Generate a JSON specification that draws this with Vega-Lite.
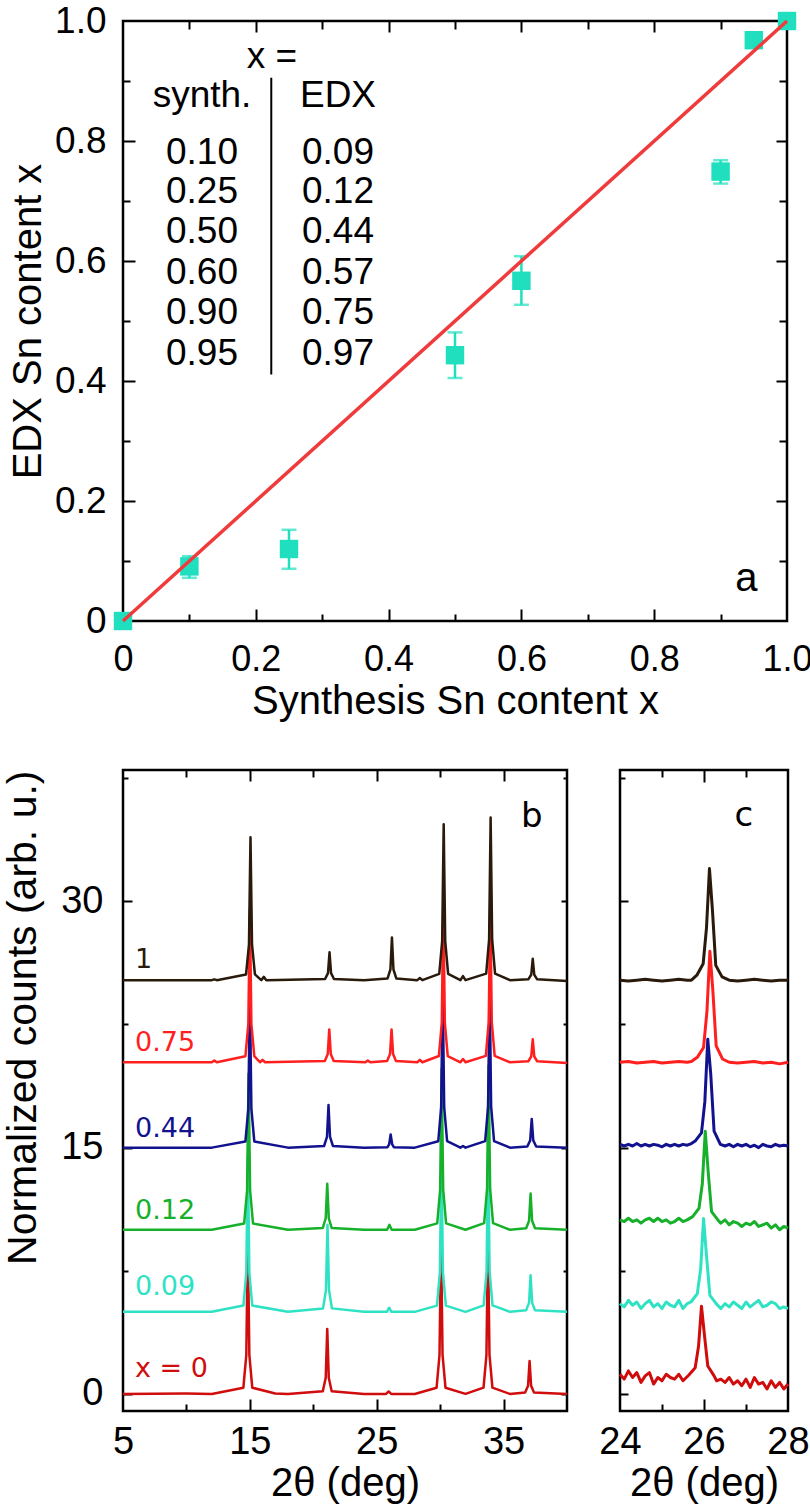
{
"$schema": "https://vega.github.io/schema/vega-lite/v6.json",
"padding": {"left": 1, "top": 0, "right": 0, "bottom": 0},
"spacing": 44,
"config": {
  "view": {"stroke": "black", "strokeWidth": 2.5},
  "axis": {"grid": false, "domain": false, "labelFont": "Liberation Sans", "titleFont": "Liberation Sans", "labelColor": "black", "titleColor": "black", "titleFontWeight": "normal", "tickColor": "black", "tickWidth": 2, "labelFlush": false, "labelOverlap": false, "labelBound": false},
  "text": {"font": "Liberation Sans"}
},
"datasets": {
  "diag": [{"s": 0, "e": 0}, {"s": 1, "e": 1}],
  "pts": [{"s": 0, "e": 0}, {"s": 0.1, "e": 0.091}, {"s": 0.25, "e": 0.12}, {"s": 0.5, "e": 0.443}, {"s": 0.6, "e": 0.567}, {"s": 0.9, "e": 0.749}, {"s": 0.95, "e": 0.968}, {"s": 1.0, "e": 1.0}],
  "err": [{"s": 0.1, "lo": 0.072, "hi": 0.108}, {"s": 0.25, "lo": 0.087, "hi": 0.152}, {"s": 0.5, "lo": 0.405, "hi": 0.481}, {"s": 0.6, "lo": 0.527, "hi": 0.608}, {"s": 0.9, "lo": 0.729, "hi": 0.768}],
  "div": [{"x": 0.2233, "y": 0.411, "y2": 0.9055}],
  "atab": [
    {"t": "x =", "x": 0.2244, "y": 0.922},
    {"t": "synth.", "x": 0.119, "y": 0.857}, {"t": "EDX", "x": 0.3238, "y": 0.857},
    {"t": "0.10", "x": 0.119, "y": 0.762}, {"t": "0.09", "x": 0.3238, "y": 0.762},
    {"t": "0.25", "x": 0.119, "y": 0.697}, {"t": "0.12", "x": 0.3238, "y": 0.697},
    {"t": "0.50", "x": 0.119, "y": 0.630}, {"t": "0.44", "x": 0.3238, "y": 0.630},
    {"t": "0.60", "x": 0.119, "y": 0.562}, {"t": "0.57", "x": 0.3238, "y": 0.562},
    {"t": "0.90", "x": 0.119, "y": 0.495}, {"t": "0.75", "x": 0.3238, "y": 0.495},
    {"t": "0.95", "x": 0.119, "y": 0.427}, {"t": "0.97", "x": 0.3238, "y": 0.427}
  ],
  "alab": [{"t": "a", "x": 0.939, "y": 0.05}],
  "b0": [{"x":5.0,"y":0.0},{"x":10,"y":0.02},{"x":12,"y":0.0},{"x":14.49,"y":0.38},{"x":14.72,"y":2.38},{"x":14.84,"y":9.5},{"x":14.96,"y":2.38},{"x":15.19,"y":0.38},{"x":17,"y":0.03},{"x":18,"y":0.0},{"x":20.75,"y":0.16},{"x":20.98,"y":0.99},{"x":21.1,"y":3.96},{"x":21.22,"y":0.99},{"x":21.45,"y":0.16},{"x":24,"y":0.0},{"x":25.74,"y":0.0},{"x":25.94,"y":0.15},{"x":26.14,"y":0.0},{"x":28,"y":0.0},{"x":29.72,"y":0.38},{"x":29.95,"y":2.38},{"x":30.07,"y":9.5},{"x":30.19,"y":2.38},{"x":30.42,"y":0.38},{"x":32,"y":0.0},{"x":33.42,"y":0.38},{"x":33.65,"y":2.38},{"x":33.77,"y":9.5},{"x":33.89,"y":2.38},{"x":34.12,"y":0.38},{"x":35.5,"y":0.0},{"x":36.7,"y":0.08},{"x":36.93,"y":0.5},{"x":37.05,"y":2.0},{"x":37.17,"y":0.5},{"x":37.4,"y":0.08},{"x":40,"y":0.0}],
  "b09": [{"x":5,"y":5.0},{"x":12,"y":5.0},{"x":14.49,"y":5.38},{"x":14.72,"y":7.38},{"x":14.84,"y":14.5},{"x":14.96,"y":7.38},{"x":15.19,"y":5.38},{"x":18,"y":5.0},{"x":20.77,"y":5.21},{"x":21.0,"y":6.33},{"x":21.12,"y":10.3},{"x":21.24,"y":6.33},{"x":21.47,"y":5.21},{"x":24,"y":5.0},{"x":25.8,"y":5.0},{"x":25.98,"y":5.25},{"x":26.16,"y":5.0},{"x":28,"y":5.0},{"x":29.75,"y":5.38},{"x":29.98,"y":7.4},{"x":30.1,"y":14.6},{"x":30.22,"y":7.4},{"x":30.45,"y":5.38},{"x":32,"y":5.0},{"x":33.43,"y":5.39},{"x":33.66,"y":7.45},{"x":33.78,"y":14.8},{"x":33.9,"y":7.45},{"x":34.13,"y":5.39},{"x":35.5,"y":5.0},{"x":36.78,"y":5.09},{"x":37.01,"y":5.56},{"x":37.13,"y":7.23},{"x":37.25,"y":5.56},{"x":37.48,"y":5.09},{"x":40,"y":5.0}],
  "b12": [{"x":5,"y":10.0},{"x":12,"y":10.0},{"x":14.55,"y":10.38},{"x":14.78,"y":12.38},{"x":14.9,"y":19.5},{"x":15.02,"y":12.38},{"x":15.25,"y":10.38},{"x":18,"y":10.0},{"x":20.75,"y":10.11},{"x":20.98,"y":10.7},{"x":21.1,"y":12.8},{"x":21.22,"y":10.7},{"x":21.45,"y":10.11},{"x":24,"y":10.0},{"x":25.82,"y":10.0},{"x":26.0,"y":10.3},{"x":26.18,"y":10.0},{"x":28,"y":10.0},{"x":29.77,"y":10.39},{"x":30.0,"y":12.45},{"x":30.12,"y":19.8},{"x":30.24,"y":12.45},{"x":30.47,"y":10.39},{"x":32,"y":10.0},{"x":33.47,"y":10.4},{"x":33.7,"y":12.5},{"x":33.82,"y":20.0},{"x":33.94,"y":12.5},{"x":34.17,"y":10.4},{"x":35.5,"y":10.0},{"x":36.78,"y":10.09},{"x":37.01,"y":10.55},{"x":37.13,"y":12.2},{"x":37.25,"y":10.55},{"x":37.48,"y":10.09},{"x":40,"y":10.0}],
  "b44": [{"x":5,"y":15.0},{"x":12,"y":15.0},{"x":14.65,"y":15.38},{"x":14.88,"y":17.38},{"x":15.0,"y":24.5},{"x":15.12,"y":17.38},{"x":15.35,"y":15.38},{"x":18,"y":15.0},{"x":20.85,"y":15.1},{"x":21.08,"y":15.65},{"x":21.2,"y":17.6},{"x":21.32,"y":15.65},{"x":21.55,"y":15.1},{"x":24,"y":15.0},{"x":25.85,"y":15.03},{"x":25.98,"y":15.2},{"x":26.1,"y":15.8},{"x":26.22,"y":15.2},{"x":26.35,"y":15.03},{"x":28,"y":15.0},{"x":29.85,"y":15.39},{"x":30.08,"y":17.45},{"x":30.2,"y":24.8},{"x":30.32,"y":17.45},{"x":30.55,"y":15.39},{"x":31.6,"y":15.0},{"x":31.8,"y":15.1},{"x":32.0,"y":15.0},{"x":33.55,"y":15.4},{"x":33.78,"y":17.5},{"x":33.9,"y":25.0},{"x":34.02,"y":17.5},{"x":34.25,"y":15.4},{"x":35.5,"y":15.0},{"x":36.87,"y":15.07},{"x":37.1,"y":15.44},{"x":37.22,"y":16.75},{"x":37.34,"y":15.44},{"x":37.57,"y":15.07},{"x":40,"y":15.0}],
  "b75": [{"x":5,"y":20.2},{"x":12.0,"y":20.2},{"x":12.2,"y":20.3},{"x":12.4,"y":20.2},{"x":14.65,"y":20.57},{"x":14.88,"y":22.53},{"x":15.0,"y":29.5},{"x":15.12,"y":22.53},{"x":15.35,"y":20.57},{"x":15.8,"y":20.2},{"x":16.0,"y":20.35},{"x":16.2,"y":20.2},{"x":20.91,"y":20.28},{"x":21.14,"y":20.7},{"x":21.26,"y":22.2},{"x":21.38,"y":20.7},{"x":21.61,"y":20.28},{"x":24.1,"y":20.2},{"x":24.3,"y":20.3},{"x":24.5,"y":20.2},{"x":25.82,"y":20.28},{"x":26.05,"y":20.7},{"x":26.17,"y":22.2},{"x":26.29,"y":20.7},{"x":26.52,"y":20.28},{"x":28.2,"y":20.2},{"x":28.4,"y":20.35},{"x":28.6,"y":20.2},{"x":29.9,"y":20.58},{"x":30.13,"y":22.6},{"x":30.25,"y":29.8},{"x":30.37,"y":22.6},{"x":30.6,"y":20.58},{"x":31.6,"y":20.2},{"x":31.8,"y":20.4},{"x":32.0,"y":20.2},{"x":33.6,"y":20.59},{"x":33.83,"y":22.65},{"x":33.95,"y":30.0},{"x":34.07,"y":22.65},{"x":34.3,"y":20.59},{"x":35.5,"y":20.2},{"x":36.95,"y":20.26},{"x":37.18,"y":20.55},{"x":37.3,"y":21.6},{"x":37.42,"y":20.55},{"x":37.65,"y":20.26},{"x":40,"y":20.15}],
  "b1": [{"x":5,"y":25.2},{"x":12.0,"y":25.2},{"x":12.2,"y":25.25},{"x":12.4,"y":25.2},{"x":14.7,"y":25.55},{"x":14.93,"y":27.38},{"x":15.05,"y":33.9},{"x":15.17,"y":27.38},{"x":15.4,"y":25.55},{"x":15.9,"y":25.2},{"x":16.1,"y":25.4},{"x":16.3,"y":25.2},{"x":20.93,"y":25.27},{"x":21.16,"y":25.63},{"x":21.28,"y":26.9},{"x":21.4,"y":25.63},{"x":21.63,"y":25.27},{"x":24,"y":25.2},{"x":25.85,"y":25.3},{"x":26.08,"y":25.85},{"x":26.2,"y":27.8},{"x":26.32,"y":25.85},{"x":26.55,"y":25.3},{"x":28.2,"y":25.2},{"x":28.4,"y":25.33},{"x":28.6,"y":25.2},{"x":29.93,"y":25.58},{"x":30.16,"y":27.58},{"x":30.28,"y":34.7},{"x":30.4,"y":27.58},{"x":30.63,"y":25.58},{"x":31.6,"y":25.2},{"x":31.8,"y":25.45},{"x":32.0,"y":25.2},{"x":33.63,"y":25.6},{"x":33.86,"y":27.68},{"x":33.98,"y":35.1},{"x":34.1,"y":27.68},{"x":34.33,"y":25.6},{"x":35.5,"y":25.2},{"x":36.95,"y":25.25},{"x":37.18,"y":25.53},{"x":37.3,"y":26.5},{"x":37.42,"y":25.53},{"x":37.65,"y":25.25},{"x":40,"y":25.15}],
  "blab": [{"t":"1","x":5.95,"y":25.97},{"t":"0.75","x":5.95,"y":20.9},{"t":"0.44","x":5.95,"y":15.67},{"t":"0.12","x":5.95,"y":10.66},{"t":"0.09","x":5.95,"y":6.03},{"t":"x = 0","x":5.95,"y":1.04}],
  "bl": [{"t":"b","x":37.23,"y":34.5}],
  "cl": [{"t":"c","x":26.95,"y":34.6}],
  "c0": [{"x":24.0,"y":1.2},{"x":24.1,"y":0.9},{"x":24.2,"y":1.4},{"x":24.3,"y":1.0},{"x":24.4,"y":1.3},{"x":24.5,"y":0.7},{"x":24.6,"y":1.1},{"x":24.7,"y":1.3},{"x":24.8,"y":0.6},{"x":24.9,"y":1.0},{"x":25.0,"y":0.8},{"x":25.1,"y":1.2},{"x":25.2,"y":1.0},{"x":25.3,"y":0.9},{"x":25.4,"y":1.2},{"x":25.5,"y":0.8},{"x":25.64,"y":1.15},{"x":25.79,"y":1.6},{"x":25.87,"y":2.9},{"x":25.94,"y":5.34},{"x":26.01,"y":3.6},{"x":26.09,"y":1.7},{"x":26.24,"y":1.1},{"x":26.3,"y":0.8},{"x":26.4,"y":0.9},{"x":26.5,"y":0.7},{"x":26.6,"y":1.0},{"x":26.7,"y":0.6},{"x":26.8,"y":0.8},{"x":26.9,"y":0.5},{"x":27.0,"y":0.9},{"x":27.1,"y":0.4},{"x":27.2,"y":1.0},{"x":27.3,"y":0.6},{"x":27.4,"y":0.7},{"x":27.5,"y":0.3},{"x":27.6,"y":0.8},{"x":27.7,"y":0.4},{"x":27.8,"y":0.7},{"x":27.9,"y":0.3},{"x":28.0,"y":0.6}],
  "c09": [{"x":24.0,"y":5.5},{"x":24.1,"y":5.3},{"x":24.2,"y":5.7},{"x":24.3,"y":5.4},{"x":24.4,"y":5.6},{"x":24.5,"y":5.2},{"x":24.6,"y":5.5},{"x":24.7,"y":5.7},{"x":24.8,"y":5.3},{"x":24.9,"y":5.5},{"x":25.0,"y":5.2},{"x":25.1,"y":5.6},{"x":25.2,"y":5.4},{"x":25.3,"y":5.3},{"x":25.4,"y":5.7},{"x":25.5,"y":5.2},{"x":25.6,"y":5.5},{"x":25.69,"y":5.6},{"x":25.84,"y":6.1},{"x":25.92,"y":7.6},{"x":25.99,"y":10.68},{"x":26.06,"y":8.4},{"x":26.14,"y":6.0},{"x":26.29,"y":5.5},{"x":26.4,"y":5.2},{"x":26.5,"y":5.5},{"x":26.6,"y":5.3},{"x":26.7,"y":5.6},{"x":26.8,"y":5.4},{"x":26.9,"y":5.2},{"x":27.0,"y":5.6},{"x":27.1,"y":5.3},{"x":27.2,"y":5.5},{"x":27.3,"y":5.7},{"x":27.4,"y":5.3},{"x":27.5,"y":5.4},{"x":27.6,"y":5.6},{"x":27.7,"y":5.5},{"x":27.8,"y":5.2},{"x":27.9,"y":5.3},{"x":28.0,"y":5.2}],
  "c12": [{"x":24.0,"y":10.6},{"x":24.1,"y":10.5},{"x":24.2,"y":10.7},{"x":24.3,"y":10.5},{"x":24.4,"y":10.6},{"x":24.5,"y":10.4},{"x":24.6,"y":10.6},{"x":24.7,"y":10.7},{"x":24.8,"y":10.5},{"x":24.9,"y":10.7},{"x":25.0,"y":10.5},{"x":25.1,"y":10.6},{"x":25.2,"y":10.4},{"x":25.3,"y":10.5},{"x":25.4,"y":10.7},{"x":25.5,"y":10.5},{"x":25.6,"y":10.6},{"x":25.73,"y":10.8},{"x":25.88,"y":11.3},{"x":25.96,"y":12.8},{"x":26.03,"y":16.0},{"x":26.1,"y":13.5},{"x":26.18,"y":11.1},{"x":26.33,"y":10.6},{"x":26.4,"y":10.4},{"x":26.5,"y":10.6},{"x":26.6,"y":10.3},{"x":26.7,"y":10.5},{"x":26.8,"y":10.4},{"x":26.9,"y":10.2},{"x":27.0,"y":10.4},{"x":27.1,"y":10.3},{"x":27.2,"y":10.5},{"x":27.3,"y":10.2},{"x":27.4,"y":10.3},{"x":27.5,"y":10.4},{"x":27.6,"y":10.1},{"x":27.7,"y":10.3},{"x":27.8,"y":10.0},{"x":27.9,"y":10.2},{"x":28.0,"y":10.1}],
  "c44": [{"x":24.0,"y":15.2},{"x":24.1,"y":15.1},{"x":24.2,"y":15.2},{"x":24.3,"y":15.1},{"x":24.4,"y":15.25},{"x":24.5,"y":15.1},{"x":24.6,"y":15.2},{"x":24.7,"y":15.1},{"x":24.8,"y":15.2},{"x":24.9,"y":15.15},{"x":25.0,"y":15.05},{"x":25.1,"y":15.2},{"x":25.2,"y":15.1},{"x":25.3,"y":15.2},{"x":25.4,"y":15.1},{"x":25.5,"y":15.2},{"x":25.6,"y":15.15},{"x":25.7,"y":15.25},{"x":25.79,"y":15.4},{"x":25.94,"y":15.9},{"x":26.02,"y":17.8},{"x":26.09,"y":21.6},{"x":26.16,"y":19.5},{"x":26.24,"y":16.0},{"x":26.39,"y":15.2},{"x":26.5,"y":15.1},{"x":26.6,"y":15.2},{"x":26.7,"y":15.05},{"x":26.8,"y":15.2},{"x":26.9,"y":15.1},{"x":27.0,"y":15.2},{"x":27.1,"y":15.05},{"x":27.2,"y":15.15},{"x":27.3,"y":15.0},{"x":27.4,"y":15.2},{"x":27.5,"y":15.1},{"x":27.6,"y":15.05},{"x":27.7,"y":15.2},{"x":27.8,"y":15.1},{"x":27.9,"y":15.15},{"x":28.0,"y":15.1}],
  "c75": [{"x":24.0,"y":20.2},{"x":24.2,"y":20.25},{"x":24.4,"y":20.15},{"x":24.6,"y":20.2},{"x":24.8,"y":20.25},{"x":25.0,"y":20.15},{"x":25.2,"y":20.2},{"x":25.4,"y":20.25},{"x":25.6,"y":20.2},{"x":25.7,"y":20.25},{"x":25.84,"y":20.5},{"x":25.99,"y":21.1},{"x":26.07,"y":23.3},{"x":26.14,"y":26.96},{"x":26.21,"y":24.6},{"x":26.29,"y":21.2},{"x":26.44,"y":20.4},{"x":26.6,"y":20.2},{"x":26.8,"y":20.15},{"x":27.0,"y":20.2},{"x":27.2,"y":20.25},{"x":27.4,"y":20.15},{"x":27.6,"y":20.2},{"x":27.8,"y":20.1},{"x":28.0,"y":20.2}],
  "c1": [{"x":24.0,"y":25.2},{"x":24.2,"y":25.15},{"x":24.4,"y":25.2},{"x":24.6,"y":25.25},{"x":24.8,"y":25.2},{"x":25.0,"y":25.15},{"x":25.2,"y":25.2},{"x":25.4,"y":25.25},{"x":25.6,"y":25.2},{"x":25.7,"y":25.2},{"x":25.83,"y":25.5},{"x":25.98,"y":26.2},{"x":26.06,"y":28.4},{"x":26.13,"y":32.0},{"x":26.2,"y":29.5},{"x":26.28,"y":26.1},{"x":26.43,"y":25.4},{"x":26.6,"y":25.2},{"x":26.8,"y":25.15},{"x":27.0,"y":25.2},{"x":27.2,"y":25.25},{"x":27.4,"y":25.2},{"x":27.6,"y":25.15},{"x":27.8,"y":25.2},{"x":28.0,"y":25.2}]
},
"vconcat": [
  {
    "width": 664, "height": 600,
    "resolve": {"axis": {"x": "independent", "y": "independent"}},
    "layer": [
      {"data": {"name": "err"}, "mark": {"type": "rule", "color": "#20dfbf", "strokeWidth": 2.5},
       "encoding": {
         "x": {"field": "s", "type": "quantitative", "scale": {"domain": [0, 1], "nice": false, "zero": false},
               "axis": {"orient": "bottom", "values": [0, 0.2, 0.4, 0.6, 0.8, 1], "labelExpr": "datum.value == 0 ? '0' : format(datum.value, '.1f')", "ticks": false, "labelPadding": 21, "labelFontSize": 36, "title": "Synthesis Sn content x", "titleFontSize": 40, "titlePadding": 4}},
         "y": {"field": "lo", "type": "quantitative", "scale": {"domain": [0, 1], "nice": false, "zero": false},
               "axis": {"orient": "left", "values": [0, 0.2, 0.4, 0.6, 0.8, 1], "labelExpr": "datum.value == 0 ? '0' : format(datum.value, '.1f')", "ticks": false, "labelPadding": 17, "labelFontSize": 37, "title": "EDX Sn content x", "titleFontSize": 40, "titlePadding": 6}},
         "y2": {"field": "hi"}
       }},
      {"data": {"name": "err"}, "mark": {"type": "tick", "orient": "horizontal", "color": "#20dfbf", "size": 15, "thickness": 2.5},
       "encoding": {
         "x": {"field": "s", "type": "quantitative", "scale": {"domain": [0, 1], "nice": false, "zero": false},
               "axis": {"orient": "bottom", "values": [0.2, 0.4, 0.6, 0.8], "tickSize": -12, "labels": false, "title": null}},
         "y": {"field": "lo", "type": "quantitative", "scale": {"domain": [0, 1], "nice": false, "zero": false},
               "axis": {"orient": "left", "values": [0.2, 0.4, 0.6, 0.8], "tickSize": -12, "labels": false, "title": null}}
       }},
      {"data": {"name": "err"}, "mark": {"type": "tick", "orient": "horizontal", "color": "#20dfbf", "size": 15, "thickness": 2.5},
       "encoding": {
         "x": {"field": "s", "type": "quantitative", "scale": {"domain": [0, 1], "nice": false, "zero": false},
               "axis": {"orient": "bottom", "values": [0.1, 0.3, 0.5, 0.7, 0.9], "tickSize": -7, "labels": false, "title": null}},
         "y": {"field": "hi", "type": "quantitative", "scale": {"domain": [0, 1], "nice": false, "zero": false},
               "axis": {"orient": "left", "values": [0.1, 0.3, 0.5, 0.7, 0.9], "tickSize": -7, "labels": false, "title": null}}
       }},
      {"data": {"name": "pts"}, "mark": {"type": "point", "shape": "square", "filled": true, "size": 340, "color": "#20dfbf", "opacity": 1},
       "encoding": {
         "x": {"field": "s", "type": "quantitative", "scale": {"domain": [0, 1], "nice": false, "zero": false},
               "axis": {"orient": "top", "values": [0.2, 0.4, 0.6, 0.8], "tickSize": -11, "labels": false, "title": null}},
         "y": {"field": "e", "type": "quantitative", "scale": {"domain": [0, 1], "nice": false, "zero": false},
               "axis": {"orient": "right", "values": [0.2, 0.4, 0.6, 0.8], "tickSize": -11, "labels": false, "title": null}}
       }},
      {"data": {"name": "div"}, "mark": {"type": "rule", "color": "black", "strokeWidth": 2},
       "encoding": {
         "x": {"field": "x", "type": "quantitative", "scale": {"domain": [0, 1], "nice": false, "zero": false},
               "axis": {"orient": "top", "values": [0.1, 0.3, 0.5, 0.7, 0.9], "tickSize": -8, "labels": false, "title": null}},
         "y": {"field": "y", "type": "quantitative", "scale": {"domain": [0, 1], "nice": false, "zero": false},
               "axis": {"orient": "right", "values": [0.1, 0.3, 0.5, 0.7, 0.9], "tickSize": -8, "labels": false, "title": null}},
         "y2": {"field": "y2"}
       }},
      {"data": {"name": "atab"}, "mark": {"type": "text", "font": "Liberation Sans", "fontSize": 37, "align": "center", "baseline": "alphabetic", "color": "black"},
       "encoding": {
         "x": {"field": "x", "type": "quantitative", "scale": {"domain": [0, 1], "nice": false, "zero": false}, "axis": null},
         "y": {"field": "y", "type": "quantitative", "scale": {"domain": [0, 1], "nice": false, "zero": false}, "axis": null},
         "text": {"field": "t"}
       }},
      {"data": {"name": "alab"}, "mark": {"type": "text", "font": "Liberation Sans", "fontSize": 40, "align": "center", "baseline": "alphabetic", "color": "black"},
       "encoding": {
         "x": {"field": "x", "type": "quantitative", "scale": {"domain": [0, 1], "nice": false, "zero": false}, "axis": null},
         "y": {"field": "y", "type": "quantitative", "scale": {"domain": [0, 1], "nice": false, "zero": false}, "axis": null},
         "text": {"field": "t"}
       }},
      {"data": {"name": "diag"}, "mark": {"type": "line", "color": "#ef3b3b", "strokeWidth": 3.5},
       "encoding": {
         "x": {"field": "s", "type": "quantitative", "scale": {"domain": [0, 1], "nice": false, "zero": false}, "axis": null},
         "y": {"field": "e", "type": "quantitative", "scale": {"domain": [0, 1], "nice": false, "zero": false}, "axis": null}
       }}
    ]
  },
  {
    "hconcat": [
      {
        "width": 444, "height": 641,
        "resolve": {"axis": {"x": "independent", "y": "independent"}},
        "layer": [
          {"data": {"name": "b0"}, "mark": {"type": "line", "color": "#d00c0c", "strokeWidth": 2.5, "strokeJoin": "round"},
           "encoding": {
             "x": {"field": "x", "type": "quantitative", "scale": {"domain": [5, 40], "nice": false, "zero": false},
                   "axis": {"orient": "bottom", "values": [5, 15, 25, 35], "ticks": false, "labelPadding": 12, "labelFontSize": 38, "title": "2θ (deg)", "titleFontSize": 40, "titlePadding": 2}},
             "y": {"field": "y", "type": "quantitative", "scale": {"domain": [-1.04, 38], "nice": false, "zero": false},
                   "axis": {"orient": "left", "values": [0, 15, 30], "ticks": false, "labelPadding": 20, "labelFontSize": 38, "title": "Normalized counts (arb. u.)", "titleFontSize": 41, "titleAnchor": "end", "titlePadding": 16}}
           }},
          {"data": {"name": "b09"}, "mark": {"type": "line", "color": "#2fe2c4", "strokeWidth": 2.5, "strokeJoin": "round"},
           "encoding": {
             "x": {"field": "x", "type": "quantitative", "scale": {"domain": [5, 40], "nice": false, "zero": false},
                   "axis": {"orient": "bottom", "values": [15, 25, 35], "tickSize": -12, "labels": false, "title": null}},
             "y": {"field": "y", "type": "quantitative", "scale": {"domain": [-1.04, 38], "nice": false, "zero": false},
                   "axis": {"orient": "left", "values": [0, 15, 30], "tickSize": -9, "labels": false, "title": null}}
           }},
          {"data": {"name": "b12"}, "mark": {"type": "line", "color": "#16b02a", "strokeWidth": 2.5, "strokeJoin": "round"},
           "encoding": {
             "x": {"field": "x", "type": "quantitative", "scale": {"domain": [5, 40], "nice": false, "zero": false},
                   "axis": {"orient": "bottom", "values": [10, 20, 30], "tickSize": -7, "labels": false, "title": null}},
             "y": {"field": "y", "type": "quantitative", "scale": {"domain": [-1.04, 38], "nice": false, "zero": false},
                   "axis": {"orient": "left", "values": [7.5, 22.5, 37.5], "tickSize": -5, "labels": false, "title": null}}
           }},
          {"data": {"name": "b44"}, "mark": {"type": "line", "color": "#12128f", "strokeWidth": 2.5, "strokeJoin": "round"},
           "encoding": {
             "x": {"field": "x", "type": "quantitative", "scale": {"domain": [5, 40], "nice": false, "zero": false},
                   "axis": {"orient": "top", "values": [15, 25, 35], "tickSize": -11, "labels": false, "title": null}},
             "y": {"field": "y", "type": "quantitative", "scale": {"domain": [-1.04, 38], "nice": false, "zero": false},
                   "axis": {"orient": "right", "values": [0, 15, 30], "tickSize": -6, "labels": false, "title": null}}
           }},
          {"data": {"name": "b75"}, "mark": {"type": "line", "color": "#ff1f1f", "strokeWidth": 2.5, "strokeJoin": "round"},
           "encoding": {
             "x": {"field": "x", "type": "quantitative", "scale": {"domain": [5, 40], "nice": false, "zero": false},
                   "axis": {"orient": "top", "values": [10, 20, 30], "tickSize": -7, "labels": false, "title": null}},
             "y": {"field": "y", "type": "quantitative", "scale": {"domain": [-1.04, 38], "nice": false, "zero": false},
                   "axis": {"orient": "right", "values": [7.5, 22.5, 37.5], "tickSize": -4, "labels": false, "title": null}}
           }},
          {"data": {"name": "b1"}, "mark": {"type": "line", "color": "#2a1a0c", "strokeWidth": 2.5, "strokeJoin": "round"},
           "encoding": {
             "x": {"field": "x", "type": "quantitative", "scale": {"domain": [5, 40], "nice": false, "zero": false}, "axis": null},
             "y": {"field": "y", "type": "quantitative", "scale": {"domain": [-1.04, 38], "nice": false, "zero": false}, "axis": null}
           }},
          {"data": {"name": "blab"}, "mark": {"type": "text", "font": "DejaVu Sans", "fontSize": 27, "align": "left", "baseline": "alphabetic"},
           "encoding": {
             "x": {"field": "x", "type": "quantitative", "scale": {"domain": [5, 40], "nice": false, "zero": false}, "axis": null},
             "y": {"field": "y", "type": "quantitative", "scale": {"domain": [-1.04, 38], "nice": false, "zero": false}, "axis": null},
             "text": {"field": "t"},
             "color": {"field": "t", "type": "nominal", "legend": null, "scale": {"domain": ["1", "0.75", "0.44", "0.12", "0.09", "x = 0"], "range": ["#2a1a0c", "#ff1f1f", "#12128f", "#16b02a", "#2fe2c4", "#d00c0c"]}}
           }},
          {"data": {"name": "bl"}, "mark": {"type": "text", "font": "DejaVu Sans", "fontSize": 34, "align": "center", "baseline": "alphabetic", "color": "black"},
           "encoding": {
             "x": {"field": "x", "type": "quantitative", "scale": {"domain": [5, 40], "nice": false, "zero": false}, "axis": null},
             "y": {"field": "y", "type": "quantitative", "scale": {"domain": [-1.04, 38], "nice": false, "zero": false}, "axis": null},
             "text": {"field": "t"}
           }}
        ]
      },
      {
        "width": 168, "height": 641,
        "resolve": {"axis": {"x": "independent", "y": "independent"}},
        "layer": [
          {"data": {"name": "c0"}, "mark": {"type": "line", "color": "#d00c0c", "strokeWidth": 3, "strokeJoin": "round"},
           "encoding": {
             "x": {"field": "x", "type": "quantitative", "scale": {"domain": [24, 28], "nice": false, "zero": false},
                   "axis": {"orient": "bottom", "values": [24, 26, 28], "ticks": false, "labelPadding": 12, "labelFontSize": 38, "title": "2θ (deg)", "titleFontSize": 40, "titlePadding": 2}},
             "y": {"field": "y", "type": "quantitative", "scale": {"domain": [-1.04, 38], "nice": false, "zero": false},
                   "axis": {"orient": "left", "values": [0, 15, 30], "tickSize": -8, "labels": false, "title": null}}
           }},
          {"data": {"name": "c09"}, "mark": {"type": "line", "color": "#2fe2c4", "strokeWidth": 3, "strokeJoin": "round"},
           "encoding": {
             "x": {"field": "x", "type": "quantitative", "scale": {"domain": [24, 28], "nice": false, "zero": false},
                   "axis": {"orient": "bottom", "values": [26], "tickSize": -12, "labels": false, "title": null}},
             "y": {"field": "y", "type": "quantitative", "scale": {"domain": [-1.04, 38], "nice": false, "zero": false},
                   "axis": {"orient": "left", "values": [7.5, 22.5, 37.5], "tickSize": -5, "labels": false, "title": null}}
           }},
          {"data": {"name": "c12"}, "mark": {"type": "line", "color": "#16b02a", "strokeWidth": 3, "strokeJoin": "round"},
           "encoding": {
             "x": {"field": "x", "type": "quantitative", "scale": {"domain": [24, 28], "nice": false, "zero": false},
                   "axis": {"orient": "bottom", "values": [25, 27], "tickSize": -7, "labels": false, "title": null}},
             "y": {"field": "y", "type": "quantitative", "scale": {"domain": [-1.04, 38], "nice": false, "zero": false}, "axis": null}
           }},
          {"data": {"name": "c44"}, "mark": {"type": "line", "color": "#12128f", "strokeWidth": 3, "strokeJoin": "round"},
           "encoding": {
             "x": {"field": "x", "type": "quantitative", "scale": {"domain": [24, 28], "nice": false, "zero": false},
                   "axis": {"orient": "top", "values": [26], "tickSize": -12, "labels": false, "title": null}},
             "y": {"field": "y", "type": "quantitative", "scale": {"domain": [-1.04, 38], "nice": false, "zero": false}, "axis": null}
           }},
          {"data": {"name": "c75"}, "mark": {"type": "line", "color": "#ff1f1f", "strokeWidth": 3, "strokeJoin": "round"},
           "encoding": {
             "x": {"field": "x", "type": "quantitative", "scale": {"domain": [24, 28], "nice": false, "zero": false},
                   "axis": {"orient": "top", "values": [25, 27], "tickSize": -7, "labels": false, "title": null}},
             "y": {"field": "y", "type": "quantitative", "scale": {"domain": [-1.04, 38], "nice": false, "zero": false}, "axis": null}
           }},
          {"data": {"name": "c1"}, "mark": {"type": "line", "color": "#2a1a0c", "strokeWidth": 3, "strokeJoin": "round"},
           "encoding": {
             "x": {"field": "x", "type": "quantitative", "scale": {"domain": [24, 28], "nice": false, "zero": false}, "axis": null},
             "y": {"field": "y", "type": "quantitative", "scale": {"domain": [-1.04, 38], "nice": false, "zero": false}, "axis": null}
           }},
          {"data": {"name": "cl"}, "mark": {"type": "text", "font": "DejaVu Sans", "fontSize": 34, "align": "center", "baseline": "alphabetic", "color": "black"},
           "encoding": {
             "x": {"field": "x", "type": "quantitative", "scale": {"domain": [24, 28], "nice": false, "zero": false}, "axis": null},
             "y": {"field": "y", "type": "quantitative", "scale": {"domain": [-1.04, 38], "nice": false, "zero": false}, "axis": null},
             "text": {"field": "t"}
           }}
        ]
      }
    ],
    "spacing": 53,
    "bounds": "flush"
  }
]
}
